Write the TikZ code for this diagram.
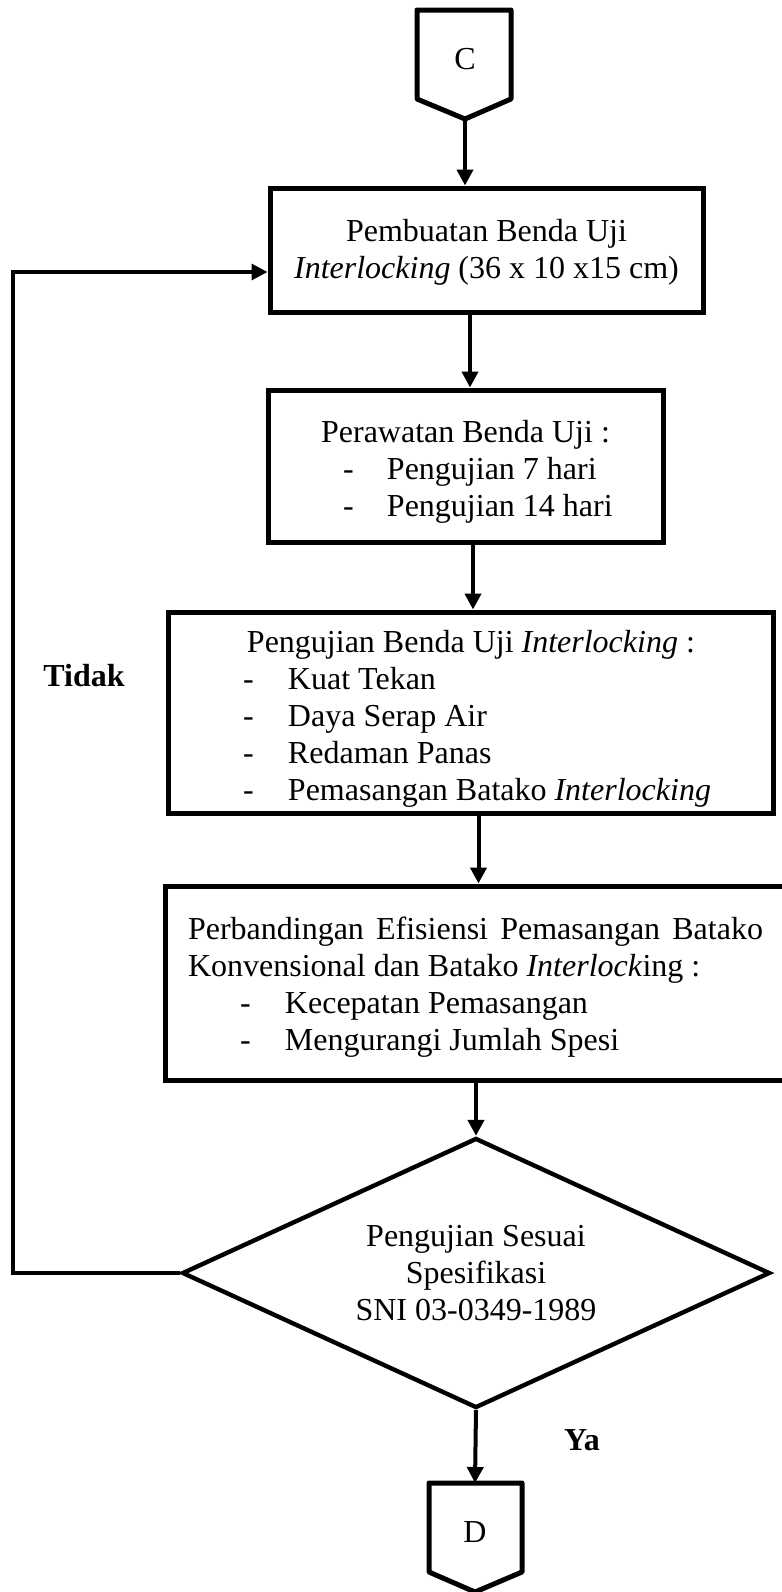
\documentclass[tikz,border=0pt]{standalone}
\usepackage{fontspec}
\setmainfont{Liberation Serif}
\usetikzlibrary{shapes.geometric,arrows.meta,calc}
\begin{document}
\begin{tikzpicture}[x=0.5pt,y=-0.5pt,
  font=\fontsize{16pt}{18.5pt}\selectfont,
  box/.style={draw, line width=2.5pt, inner sep=0pt},
  arr/.style={line width=2pt, -{Triangle[length=8pt,width=8pt]}},
  offp/.style={draw, line width=2.5pt, line join=round},
  lbl/.style={font=\fontsize{16pt}{18.5pt}\selectfont\bfseries}]
\useasboundingbox (0,0) rectangle (782,1592);
\clip (0,0) rectangle (782,1592);

% off-page connector C
\draw[offp] (417,10) -- (511,10) -- (511,99) -- (465,119) -- (417,99) -- cycle;
\node (c) at (465,59) {C};
\coordinate (ctip) at (465,119);

% boxes
\node[box, minimum width=216.5pt, minimum height=62pt] (b1) at (486.5,250)
  {\parbox{216.5pt}{\centering\vspace*{2pt}Pembuatan Benda Uji\\\textit{Interlocking} (36 x 10 x15 cm)}};

\node[box, minimum width=197.5pt, minimum height=76pt] (b2) at (465.5,466)
  {\parbox{197.5pt}{\raggedright\vspace*{6pt}\makebox[197.5pt][c]{Perawatan Benda Uji :}\\
   \hspace*{37.5pt}\makebox[22pt][l]{-}Pengujian 7 hari\\
   \hspace*{37.5pt}\makebox[22pt][l]{-}Pengujian 14 hari}};

\node[box, minimum width=302.5pt, minimum height=100.5pt] (b3) at (470.5,712.5)
  {\parbox{302.5pt}{\raggedright\vspace*{6.5pt}\hspace*{39.5pt}Pengujian Benda Uji \textit{Interlocking} :\\
   \hspace*{37.5pt}\makebox[22.5pt][l]{-}Kuat Tekan\\
   \hspace*{37.5pt}\makebox[22.5pt][l]{-}Daya Serap Air\\
   \hspace*{37.5pt}\makebox[22.5pt][l]{-}Redaman Panas\\
   \hspace*{37.5pt}\makebox[22.5pt][l]{-}Pemasangan Batako \textit{Interlocking}}};

\node[box, minimum width=313.5pt, minimum height=97pt] (b4) at (478.5,983)
  {\parbox{313.5pt}{\raggedright\vspace*{4pt}\hspace*{11.5pt}\makebox[287.5pt][s]{Perbandingan Efisiensi Pemasangan Batako}\\
   \hspace*{11.5pt}Konvensional dan Batako \textit{Interlock}ing :\\
   \hspace*{37.5pt}\makebox[22.5pt][l]{-}Kecepatan Pemasangan\\
   \hspace*{37.5pt}\makebox[22.5pt][l]{-}Mengurangi Jumlah Spesi}};

% decision
\node[draw, diamond, line width=2.2pt, aspect=2.18, minimum width=294pt, minimum height=135pt,
  inner sep=0pt, align=center] (dm) at (476,1273)
  {Pengujian Sesuai\\Spesifikasi\\SNI 03-0349-1989};

% off-page connector D
\draw[offp] (429,1483) -- (522,1483) -- (522,1572) -- (475,1592) -- (429,1572) -- cycle;
\node (d) at (475,1532) {D};
\coordinate (dtop) at (475,1483);

% arrow x positions
\coordinate (x2) at (470,0);
\coordinate (x3) at (473,0);
\coordinate (fb) at (13,272);

% connectors
\draw[arr] (ctip) -- (b1.north -| ctip);
\draw[arr] (b1.south -| x2) -- (b2.north -| x2);
\draw[arr] (b2.south -| x3) -- (b3.north -| x3);
\draw[arr] (b3.south -| b4.north) -- (b4.north);
\draw[arr] (b4.south -| dm.north) -- (dm.north);
\draw[arr] (dm.south) -- (dtop);
\draw[line width=1.7pt, -{Triangle[length=8pt,width=8pt]}] (dm.west) -| (fb) -- (fb -| b1.west);

% labels
\node[lbl] (tidak) at (84,676) {Tidak};
\node[lbl] (ya) at (582,1440) {Ya};
\end{tikzpicture}
\end{document}
